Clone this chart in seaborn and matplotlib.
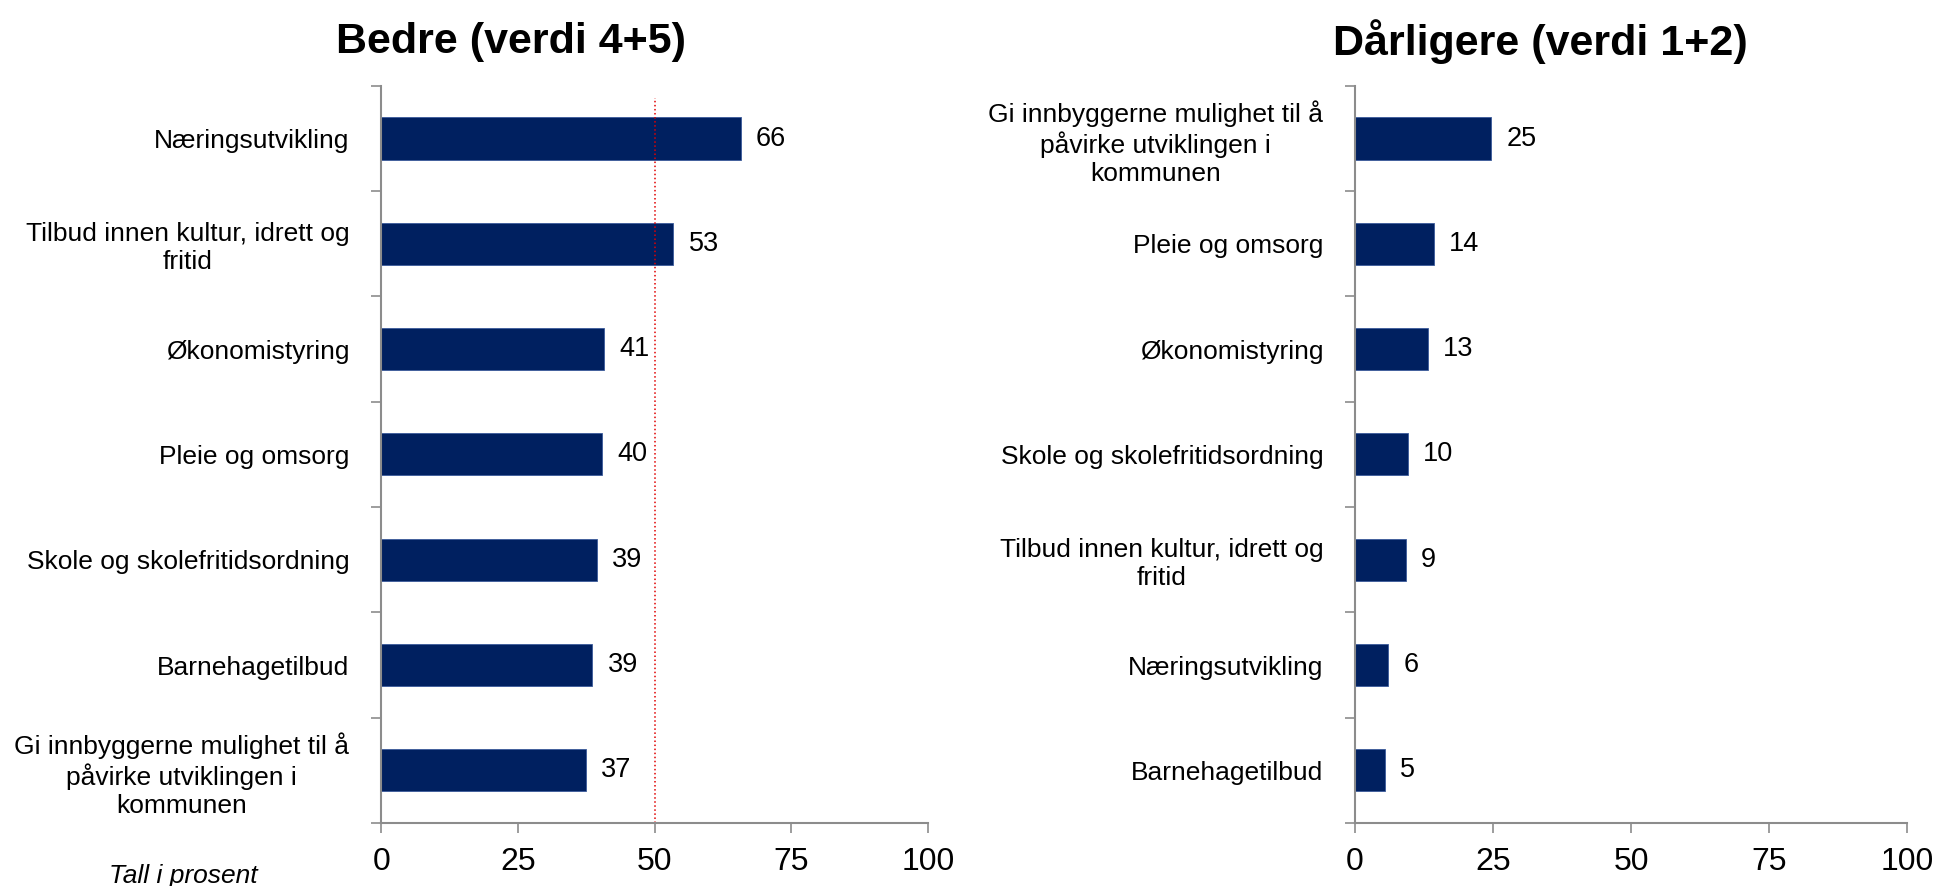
import numpy as np
import matplotlib
matplotlib.use('Agg')
import matplotlib.pyplot as plt
import seaborn as sns
import pandas as pd

sns.set_style('white')
plt.rcParams['font.family'] = ['Liberation Sans', 'DejaVu Sans']
plt.rcParams['text.color'] = 'black'
plt.rcParams['xtick.labelcolor'] = 'black'
plt.rcParams['ytick.labelcolor'] = 'black'

# Data (percent)
better_labels = ['Næringsutvikling', 'Tilbud innen kultur, idrett og\nfritid', 'Økonomistyring',
                 'Pleie og omsorg', 'Skole og skolefritidsordning', 'Barnehagetilbud',
                 'Gi innbyggerne mulighet til å\npåvirke utviklingen i\nkommunen']
better_values = [65.7, 53.4, 40.8, 40.3, 39.4, 38.6, 37.4]

worse_labels = ['Gi innbyggerne mulighet til å\npåvirke utviklingen i\nkommunen', 'Pleie og omsorg',
                'Økonomistyring', 'Skole og skolefritidsordning',
                'Tilbud innen kultur, idrett og\nfritid', 'Næringsutvikling', 'Barnehagetilbud']
worse_values = [24.6, 14.3, 13.2, 9.6, 9.2, 6.0, 5.4]

x_ticks = [0, 25, 50, 75, 100]
reference_line = 50

BAR_COLOR = '#002060'
AXIS_COLOR = '#8c8c8c'

fig = plt.figure(figsize=(19.35, 8.86), dpi=100)
ax_left = fig.add_axes([0.197, 0.0711, 0.2827, 0.832])
ax_right = fig.add_axes([0.7003, 0.0711, 0.2853, 0.832])


def draw_panel(ax, labels, values, line_at=None):
    df = pd.DataFrame({'label': labels, 'value': values})
    sns.barplot(data=df, x='value', y='label', orient='h', color=BAR_COLOR, width=0.4,
                edgecolor='#3a5a9a', linewidth=0.6, saturation=1, ax=ax)
    n = len(labels)
    ax.set_xlim(0, 100)
    ax.set_ylim(n - 0.5, -0.5)
    ax.set_xticks(x_ticks)
    ax.set_xticklabels([str(t) for t in x_ticks])
    ax.set_xlabel('')
    ax.set_ylabel('')
    ax.tick_params(axis='x', which='major', direction='out', length=7, width=1.2,
                   color=AXIS_COLOR, labelsize=23, pad=10, bottom=True)
    ax.tick_params(axis='y', which='major', length=0, labelsize=19, pad=23)
    ax.set_yticks(np.arange(-0.5, n, 1.0), minor=True)
    ax.tick_params(axis='y', which='minor', direction='out', length=7, width=1.2,
                   color=AXIS_COLOR, left=True)
    for t in ax.get_yticklabels():
        t.set_multialignment('center')
        t.set_linespacing(1.2)
    for side in ['top', 'right']:
        ax.spines[side].set_visible(False)
    for side in ['left', 'bottom']:
        ax.spines[side].set_color(AXIS_COLOR)
        ax.spines[side].set_linewidth(1.5)
    ax.grid(False)
    for p, v in zip(ax.patches, values):
        ax.annotate(f'{round(v)}', (p.get_width(), p.get_y() + p.get_height() / 2),
                    xytext=(11, 0), textcoords='offset points', va='center', ha='left',
                    fontsize=19.5, color='black')
    if line_at is not None:
        ax.axvline(line_at, ymin=0, ymax=0.984, color='#e00000', linestyle=':', linewidth=1.1)


draw_panel(ax_left, better_labels, better_values, line_at=reference_line)
draw_panel(ax_right, worse_labels, worse_values)

fig.text(0.264, 0.953, 'Bedre (verdi 4+5)', ha='center', va='center', fontsize=31, fontweight='bold')
fig.text(0.796, 0.953, 'Dårligere (verdi 1+2)', ha='center', va='center', fontsize=31, fontweight='bold')
fig.text(0.0946, 0.011, 'Tall i prosent', ha='center', va='center', fontsize=19, fontstyle='italic')

fig.savefig('out.png', dpi=100, facecolor='white')
